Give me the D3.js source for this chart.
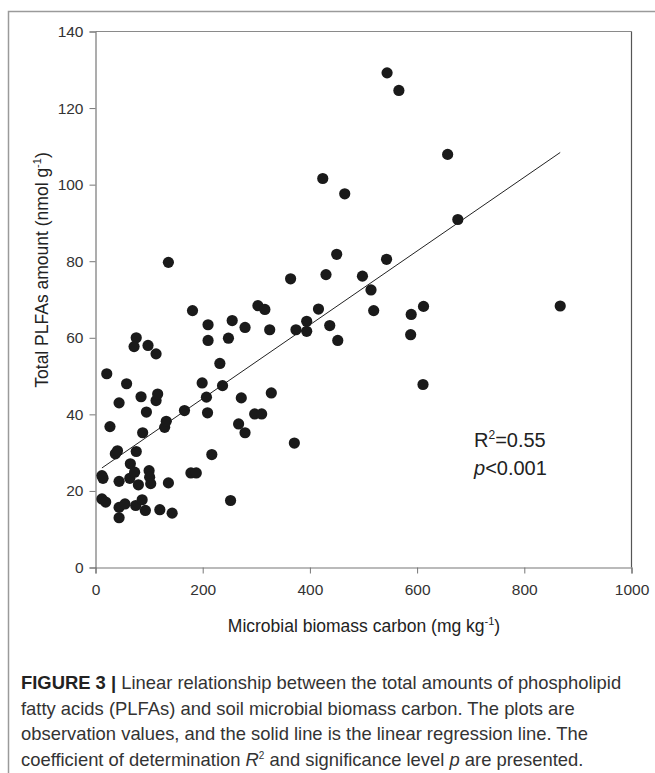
<!DOCTYPE html>
<html>
<head>
<meta charset="utf-8">
<script src="https://cdn.jsdelivr.net/npm/d3@7"></script>
<style>
  body { margin: 0; background: #fff; }
  text { font-family: "Liberation Sans", Arial, sans-serif; }
</style>
</head>
<body>
<div class="chart"></div>
<script>
var width = 655
var height = 773

var mbc = [12, 14, 12, 19, 21, 27, 37, 41, 44, 44, 44, 55, 44, 58, 64, 65, 73, 75, 76, 76,
  72, 80, 85, 87, 88, 93, 98, 95, 100, 101, 103, 113, 113, 116, 120, 129, 132, 136, 136, 143,
  166, 178, 188, 181, 199, 207, 209, 210, 210, 217, 232, 237, 248, 252, 255, 272, 279, 279, 267, 297,
  303, 310, 316, 325, 328, 364, 371, 374, 394, 394, 416, 424, 430, 437, 450, 452, 465, 498, 514, 519,
  543, 544, 566, 588, 589, 611, 612, 657, 676, 867];
var plfa = [24.0, 23.3, 17.9, 17.1, 50.6, 36.8, 29.7, 30.5, 43.0, 22.5, 15.7, 16.6, 13.0, 48.0, 23.3, 27.1, 24.9, 16.2, 30.3, 60.0,
  57.7, 21.6, 44.6, 17.7, 35.2, 14.9, 58.0, 40.6, 25.3, 23.6, 21.9, 55.8, 43.6, 45.3, 15.1, 36.6, 38.2, 22.1, 79.7, 14.2,
  41.0, 24.7, 24.7, 67.1, 48.2, 44.5, 40.4, 63.4, 59.3, 29.5, 53.3, 47.5, 59.9, 17.5, 64.5, 44.3, 62.7, 35.2, 37.5, 40.1,
  68.4, 40.1, 67.4, 62.1, 45.6, 75.4, 32.5, 62.1, 64.3, 61.7, 67.5, 101.6, 76.5, 63.2, 81.8, 59.3, 97.6, 76.1, 72.5, 67.1,
  80.5, 129.2, 124.6, 60.8, 66.1, 47.8, 68.2, 107.9, 90.9, 68.3];

// regression line end points as drawn
var fitX = [12, 867];
var fitY = [26.0, 108.4];

var xTicks = [0, 200, 400, 600, 800, 1000];
var yTicks = [0, 20, 40, 60, 80, 100, 120, 140];

var x = d3.scaleLinear().domain([0, 1000]).range([95.5, 631.5]);
var y = d3.scaleLinear().domain([0, 140]).range([567.5, 31.5]);

var svg = d3.select(".chart").append("svg")
    .attr("width", width)
    .attr("height", height);

// outer figure frame (top and left only)
svg.append("path")
    .attr("d", "M8.5,773 V11.5 H655")
    .attr("fill", "none")
    .attr("stroke", "#9a9a9a")
    .attr("stroke-width", 1.5);

// plot box: top and right
svg.append("line")
    .attr("x1", x(0)).attr("x2", x(1000))
    .attr("y1", y(140)).attr("y2", y(140))
    .attr("stroke", "#8a8a8a").attr("stroke-width", 1.2);
svg.append("line")
    .attr("x1", x(1000)).attr("x2", x(1000))
    .attr("y1", y(140)).attr("y2", y(0))
    .attr("stroke", "#555").attr("stroke-width", 1.2);

var xAxis = svg.append("g")
    .attr("transform", "translate(0," + y(0) + ")")
    .call(d3.axisBottom(x).tickValues(xTicks).tickFormat(d3.format("d")).tickSize(6).tickPadding(10));
var yAxis = svg.append("g")
    .attr("transform", "translate(" + x(0) + ",0)")
    .call(d3.axisLeft(y).tickValues(yTicks).tickSize(6).tickPadding(6));

[xAxis, yAxis].forEach(function(ax) {
  ax.attr("font-family", null).attr("font-size", null);
  ax.select(".domain").attr("stroke", "#777").attr("stroke-width", 1.2);
  ax.selectAll(".tick line").attr("stroke", "#777");
  ax.selectAll(".tick text").attr("fill", "#333").style("font-size", "15.5px");
});

// regression line
svg.append("line")
    .attr("x1", x(fitX[0])).attr("y1", y(fitY[0]))
    .attr("x2", x(fitX[1])).attr("y2", y(fitY[1]))
    .attr("stroke", "#222")
    .attr("stroke-width", 1);

// points
svg.append("g")
    .selectAll("circle")
    .data(mbc)
    .enter()
    .append("circle")
    .attr("cx", function(d) { return x(d); })
    .attr("cy", function(d, i) { return y(plfa[i]); })
    .attr("r", 5.6)
    .attr("fill", "#1a1a1a");

// axis titles
var xTitle = svg.append("text")
    .attr("x", 364).attr("y", 632)
    .attr("text-anchor", "middle")
    .attr("fill", "#222")
    .style("font-size", "17.5px");
xTitle.append("tspan").text("Microbial biomass carbon (mg kg");
xTitle.append("tspan").attr("dy", -7).style("font-size", "11px").text("-1");
xTitle.append("tspan").attr("dy", 7).text(")");

var yTitle = svg.append("text")
    .attr("transform", "translate(48,270) rotate(-90)")
    .attr("text-anchor", "middle")
    .attr("fill", "#222")
    .style("font-size", "17.5px");
yTitle.append("tspan").text("Total PLFAs amount (nmol g");
yTitle.append("tspan").attr("dy", -7).style("font-size", "11px").text("-1");
yTitle.append("tspan").attr("dy", 7).text(")");

// statistics
var r2 = svg.append("text").attr("x", 474).attr("y", 447).attr("fill", "#222").style("font-size", "20px");
r2.append("tspan").text("R");
r2.append("tspan").attr("dy", -8).style("font-size", "12px").text("2");
r2.append("tspan").attr("dy", 8).text("=0.55");
var pv = svg.append("text").attr("x", 474).attr("y", 475).attr("fill", "#222").style("font-size", "20px");
pv.append("tspan").style("font-style", "italic").text("p");
pv.append("tspan").text("<0.001");

// caption
var capLines = [
  [["FIGURE 3 ", "bold"], ["| ", "bold"], ["Linear relationship between the total amounts of phospholipid", ""]],
  [["fatty acids (PLFAs) and soil microbial biomass carbon. The plots are", ""]],
  [["observation values, and the solid line is the linear regression line. The", ""]],
  [["coefficient of determination ", ""], ["R", "italic"], ["2", "sup"], [" and significance level ", ""], ["p", "italic"], [" are presented.", ""]]
];
capLines.forEach(function(line, li) {
  var t = svg.append("text")
      .attr("x", 21)
      .attr("y", 689 + li * 25.6)
      .attr("fill", "#333")
      .style("font-size", "18.4px");
  line.forEach(function(part) {
    var s = t.append("tspan").text(part[0]);
    if (part[1] == "bold") s.style("font-weight", "bold").attr("fill", "#222");
    if (part[1] == "italic") s.style("font-style", "italic");
    if (part[1] == "sup") s.attr("dy", -7).style("font-size", "10px");
    if (part[1] != "sup" && li == 3 && part[0].indexOf(" and") == 0) s.attr("dy", 7);
  });
});
</script>
</body>
</html>
